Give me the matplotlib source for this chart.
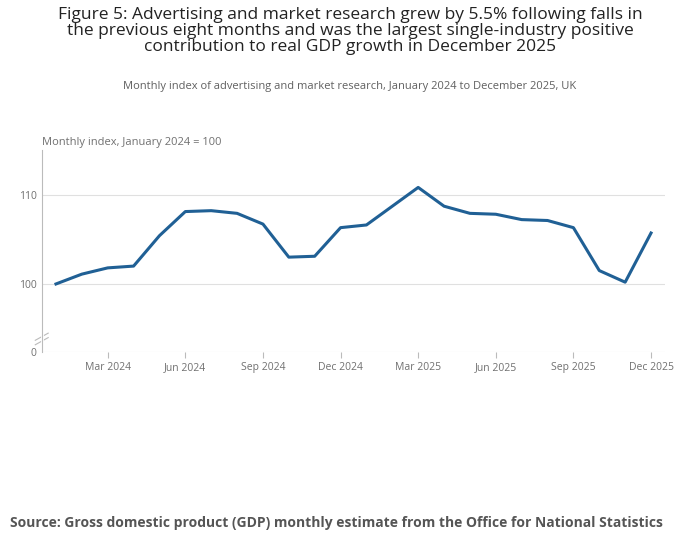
import matplotlib.pyplot as plt

months = ['Jan 2024', 'Feb 2024', 'Mar 2024', 'Apr 2024', 'May 2024', 'Jun 2024',
          'Jul 2024', 'Aug 2024', 'Sep 2024', 'Oct 2024', 'Nov 2024', 'Dec 2024',
          'Jan 2025', 'Feb 2025', 'Mar 2025', 'Apr 2025', 'May 2025', 'Jun 2025',
          'Jul 2025', 'Aug 2025', 'Sep 2025', 'Oct 2025', 'Nov 2025', 'Dec 2025']
index_values = [100.0, 101.1, 101.8, 102.0, 105.4, 108.1, 108.2, 107.9, 106.7, 103.0,
                103.1, 106.3, 106.6, 108.7, 110.8, 108.7, 107.9, 107.8, 107.2, 107.1,
                106.3, 101.5, 100.2, 105.7]
tick_labels = ['Mar 2024', 'Jun 2024', 'Sep 2024', 'Dec 2024',
               'Mar 2025', 'Jun 2025', 'Sep 2025', 'Dec 2025']

plt.rcParams['font.family'] = ['Open Sans', 'DejaVu Sans']
grey = '#707070'

fig = plt.figure(figsize=(7, 5.49), dpi=100)
fig.text(0.5, 0.988, 'Figure 5: Advertising and market research grew by 5.5% following falls in\n'
         'the previous eight months and was the largest single-industry positive\n'
         'contribution to real GDP growth in December 2025',
         ha='center', va='top', fontsize=12.5, color='#222222', linespacing=1.0)
fig.text(0.5, 0.852, 'Monthly index of advertising and market research, January 2024 to December 2025, UK',
         ha='center', va='top', fontsize=8, color='#606060')
fig.text(0.015, 0.035, 'Source: Gross domestic product (GDP) monthly estimate from the Office for National Statistics',
         ha='left', va='bottom', fontsize=10, fontweight='bold', color='#555555')

ax = fig.add_axes([0.06, 0.359, 0.89, 0.368])
x = list(range(len(months)))
ax.plot(x, index_values, color='#206095', linewidth=2.2)

ymin = 92.4
ax.set_ylim(ymin, 115)
ax.set_xlim(-0.54, 23.54)
ax.set_yticks([ymin, 100, 110])
ax.set_yticklabels(['0', '100', '110'])
ax.set_xticks([months.index(t) for t in tick_labels])
ax.set_xticklabels(tick_labels)
ax.grid(axis='y', color='#e0e0e0', linewidth=0.8)
ax.set_axisbelow(True)
for s in ['top', 'right', 'bottom']:
    ax.spines[s].set_visible(False)
ax.spines['left'].set_color('#bbbbbb')
ax.tick_params(axis='y', length=0, labelsize=7.5, labelcolor=grey, pad=4)
ax.tick_params(axis='x', length=4, color='#bbbbbb', labelsize=7.5, labelcolor=grey)

# axis break marks
for dy in (0, 0.5):
    ax.plot([-0.8, -0.3], [93.2 + dy, 94.0 + dy], color='#bbbbbb', lw=0.8, clip_on=False)
ax.plot([-0.54, -0.54], [93.3, 94.3], color='white', lw=2, clip_on=False)

ax.text(0.0, 1.01, 'Monthly index, January 2024 = 100', transform=ax.transAxes,
        ha='left', va='bottom', fontsize=8, color=grey)

fig.savefig('out.png', dpi=100)
